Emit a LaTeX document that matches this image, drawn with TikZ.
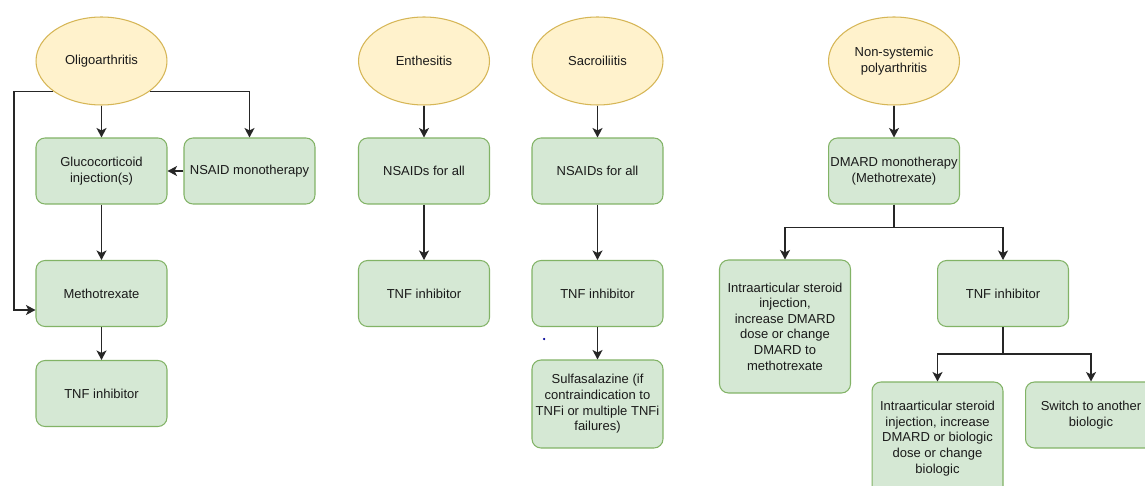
\documentclass[tikz,border=0pt]{standalone}
\usepackage{fontspec}
\setmainfont{Liberation Sans}
\usetikzlibrary{shapes.geometric,arrows.meta,calc}
\definecolor{gfill}{HTML}{D5E8D4}
\definecolor{gdraw}{HTML}{82B366}
\definecolor{yfill}{HTML}{FFF2CC}
\definecolor{ydraw}{HTML}{D6B656}
\definecolor{txt}{HTML}{1A1A1A}
\begin{document}
\begin{tikzpicture}[x=0.02cm,y=-0.02cm,
  lbl/.style={font=\fontsize{7.4}{8.9}\selectfont,text=txt,align=center},
  box/.style={lbl,draw=gdraw,fill=gfill,rounded corners=0.18cm,minimum width=2.62cm,minimum height=1.32cm,inner sep=1pt,line width=0.6pt},
  cond/.style={lbl,ellipse,draw=ydraw,fill=yfill,minimum width=2.62cm,minimum height=1.76cm,inner sep=0pt,line width=0.6pt},
  arr/.style={-{Stealth[length=0.19cm,width=0.2cm,inset=0.05cm]},line width=0.7pt,draw=black!85}]
\useasboundingbox (0,0) rectangle (1145,486);
\fill[white] (0,0) rectangle (1145,486);

% Column 1
\node[cond] (oli) at (101.5,61) {Oligoarthritis};
\node[box] (gluc) at (101.5,171) {Glucocorticoid\\injection(s)};
\node[box] (nsaid) at (249.5,171) {NSAID monotherapy};
\node[box] (metho) at (101.5,293.5) {Methotrexate};
\node[box] (tnfa) at (101.5,393.5) {TNF inhibitor};
\coordinate (lft) at (14,310);
\draw[arr] (oli.south) -- (gluc.north);
\draw[arr] (oli.-32) -| (nsaid.north);
\draw[arr] (nsaid.west) -- (gluc.east);
\draw[arr] (gluc.south) -- (metho.north);
\draw[arr] (oli.-148) -| (lft) -- (lft -| metho.west);
\draw[arr] (metho.south) -- (tnfa.north);

% Column 2
\node[cond] (enth) at (424,61) {Enthesitis};
\node[box] (nsb) at (424,171) {NSAIDs for all};
\node[box] (tnfb) at (424,293.5) {TNF inhibitor};
\draw[arr] (enth.south) -- (nsb.north);
\draw[arr] (nsb.south) -- (tnfb.north);

% Column 3
\node[cond] (sacro) at (597.5,61) {Sacroiliitis};
\node[box] (nsc) at (597.5,171) {NSAIDs for all};
\node[box] (tnfc) at (597.5,293.5) {TNF inhibitor};
\node[box,minimum height=1.76cm] (sulfa) at (597.5,404) {Sulfasalazine (if\\contraindication to\\TNFi or multiple TNFi\\failures)};
\draw[arr] (sacro.south) -- (nsc.north);
\draw[arr] (nsc.south) -- (tnfc.north);
\draw[arr] (tnfc.south) -- (sulfa.north);
\fill[blue!60!black] (544,339) circle (0.025cm);

% Column 4
\node[cond] (nonsys) at (894,61) {Non-systemic\\polyarthritis};
\node[box] (dmard) at (894,171) {DMARD monotherapy\\(Methotrexate)};
\node[box,minimum height=2.66cm] (ia1) at (785,326.5) {Intraarticular steroid\\injection,\\increase DMARD\\dose or change\\DMARD to\\methotrexate};
\node[box] (tnfd) at (1003,293.5) {TNF inhibitor};
\node[box,minimum height=2.26cm] (ia2) at (937.5,438.5) {Intraarticular steroid\\injection, increase\\DMARD or biologic\\dose or change\\biologic};
\node[box] (sw) at (1091,415) {Switch to another\\biologic};
\draw[arr] (nonsys.south) -- (dmard.north);
\draw[arr] (dmard.south) -- ++(0,23) -| (ia1.north);
\draw[arr] (dmard.south) -- ++(0,23) -| (tnfd.north);
\draw[arr] (tnfd.south) -- ++(0,27) -| (ia2.north);
\draw[arr] (tnfd.south) -- ++(0,27) -| (sw.north);
\end{tikzpicture}
\end{document}
